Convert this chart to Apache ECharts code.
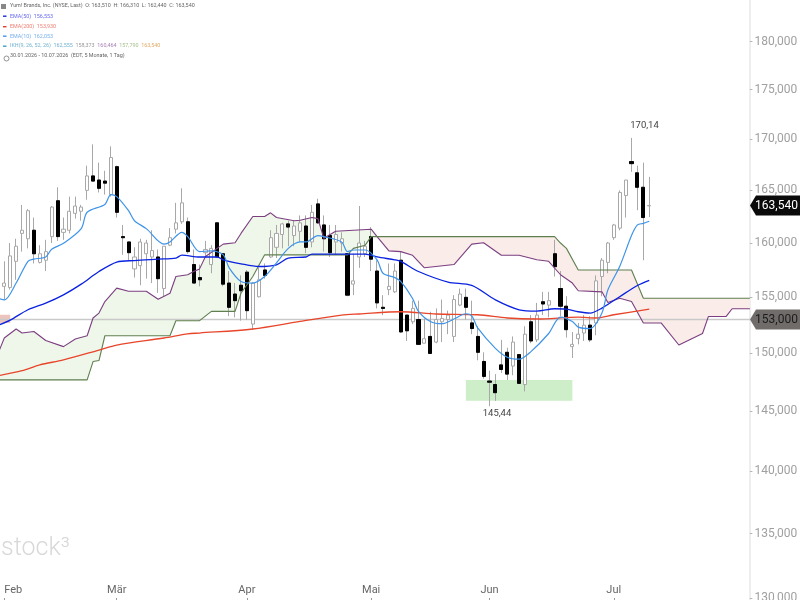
<!DOCTYPE html>
<html><head><meta charset="utf-8">
<style>html,body{margin:0;padding:0;background:#fff}#main{width:800px;height:600px;filter:blur(0.35px)}</style>
<script src="https://cdn.jsdelivr.net/npm/echarts@6/dist/echarts.min.js"></script>
</head><body><div id="main"></div>
<script>
const FONT = 'Roboto,"Liberation Sans",sans-serif';
const holidays = ['2026-02-16','2026-04-03','2026-05-25','2026-06-19','2026-07-03'];
const yTicks = [130,135,140,145,150,155,160,165,170,175,180];
const opens = [154.9,156.0,155.9,158.3,160.9,160.4,161.2,158.2,158.4,160.6,164,161.0,161.2,162.8,163,165,166.4,166,165.9,164.6,167.3,160.6,160.1,157.6,157.9,159,158.7,158.7,155.8,159.8,161.3,162,162,158,156.8,159.1,158,161.9,159,156.3,155.3,156.1,157.3,152.6,155.05,157.5,158.7,159.6,160.8,161.8,160.7,161.1,161.6,160.1,163.7,161.7,160.7,160.1,160,159,156.2,158.7,159,160.6,157.4,154.1,155.7,155.5,158.4,153.4,152.8,153,150.9,151.5,151,152.8,153,151.5,154.3,155,152.7,151.5,149.3,147.6,147.3,149,150.1,148.9,149.9,147.3,152.8,151.2,154.6,154.3,159,155.8,154.2,150.6,151.3,151.8,152.5,152.7,156.9,158.2,160.5,161.4,164.5,167.8,166.7,165.3,163.51];
const highs = [156.0,158.3,160,160.4,163.6,163.2,162.4,159.8,160.3,163.5,165.3,162.4,164.4,164.4,163.6,167.4,169.5,167.7,166.9,169.3,167.4,161.7,160.1,159.6,160.4,160.3,161.2,159.4,159.7,161.4,163.8,165.2,162.4,159.4,158,160.2,159.8,161.9,159.05,157.4,156.3,157,157.5,156.4,157.7,158.1,161.2,161.7,161.9,162.1,162.1,162.6,162.6,163.6,164.2,162.6,161.7,161.7,161,159.05,159,163.5,160.2,161.5,158.4,155.2,158.1,158.1,159.2,153.4,154.7,154.7,153.1,153.7,154,154.8,153.8,155.2,155.8,155.8,154.7,152.4,150.1,148.5,148.2,151.2,150.5,151.5,149.9,152.4,153.4,154.5,155.5,155.5,160.3,157.4,155.1,151.9,152.7,153.4,153.3,157,158.6,160.1,161.8,165,166,170.14,167.4,167.7,166.31];
const lows = [154.8,154.8,155.7,156.6,159.2,159.5,158.1,158.1,157.4,160.0,160.2,160.3,160.9,162.3,162.1,164.1,165.9,164.8,164.6,164.4,162.4,158.9,158.4,156.8,156.1,156.7,156.3,155.4,155.1,159.7,160.9,161.8,159,156.3,156,158.8,157.2,158.6,156,153.3,153.2,152.9,153,152.1,155,156.7,158.6,158.6,159.5,159.7,159.7,160.1,159.05,159.6,161.8,159.2,158.7,158.9,159.2,155.1,155.2,157.7,158.7,157.4,154,153.4,155.2,155.4,151.8,151.1,152.6,150.8,150.9,150,150.9,151,151.7,151,154.2,153,151.7,149.4,147.8,145.44,145.9,148.3,147.7,148.1,147.4,146.7,150.9,151,153.4,153.2,156.9,153.3,151.4,149.6,150.8,151.1,151,151.6,155.1,157.2,160.3,161.2,162.4,166.8,163.1,158.4,162.44];
const closes = [155.6,156.3,158.8,159.7,161.2,163.05,159,159,159.2,163.4,160.6,161.3,163,163.5,163.4,166.4,165.9,165.2,165.7,168.2,162.9,160.5,159.1,158.7,160.1,160,159.3,156.7,159.7,160.5,161.9,163.8,159.2,156.3,156.6,159.4,159.5,158.7,156.2,154.1,154.7,155.6,153.8,156.3,156.6,157,160.5,160.9,161.8,161.5,161.6,161.9,159.6,162.9,161.9,160.4,159.1,160.8,160.4,155.2,156.5,160,159.7,158.5,154.5,154,156,157.4,151.9,152,154,150.8,151.3,150,153,153.1,153.4,154.8,155.3,154.1,152.2,150.1,148,147.5,146.6,148.6,148.2,151,147.4,151.7,151.1,153.4,154.4,154.7,157.8,154.2,152.1,150.8,151.7,152.5,151.2,156.5,158.4,160,161.7,164.8,166,167.6,165.3,162.4,163.54];
const ema10 = [[0,154.9],[1,154.77],[3,156.3],[5,158.3],[6,158.5],[8,158.7],[9,159.42],[11,159.97],[14,161.35],[15,162.9],[18,163.65],[19,164.6],[20,164.4],[22,163.05],[23,162.1],[25,161.35],[28,159.9],[29,160.1],[31,161],[32,160.6],[34,159.2],[36,159.27],[38,158.9],[39,157.7],[41,156.45],[43,156.3],[45,156.9],[47,158.15],[49,159.5],[51,160.1],[52,160.1],[54,160.7],[55,160.6],[58,160.1],[59,159.2],[60,159.35],[62,159.35],[64,158.44],[65,157.2],[67,156.8],[68,156.45],[70,154.9],[71,153.73],[73,152.83],[75,152.63],[77,153.05],[79,153.52],[80,153.34],[81,152.25],[84,150.45],[86,149.67],[88,149.5],[90,150.16],[93,151.76],[95,153.22],[97,152.83],[98,152.33],[100,152.2],[102,153.58],[103,155.66],[105,157.82],[107,160.7],[108,161.7],[109,161.85],[110,162.05]];
const ema50 = [[0,152.5],[2,152.95],[5,153.88],[8,154.47],[11,155.22],[14,156.2],[17,157.36],[20,158.23],[23,158.37],[27,158.5],[30,158.6],[31,158.87],[34,158.7],[37,158.7],[38,158.44],[41,158.07],[44,157.82],[47,157.98],[49,158.6],[52,158.7],[53,158.97],[59,158.97],[62,158.97],[64,158.7],[67,158.44],[68,158.3],[71,157.36],[76,156.39],[80,156.08],[84,154.77],[88,153.88],[91,153.76],[94,153.97],[96,153.94],[98,153.7],[100,153.58],[102,154.03],[105,155.06],[108,156.08],[110,156.55]];
const ema200 = [[0,148.06],[4,148.5],[7,149],[11,149.44],[17,150.3],[20,150.74],[28,151.36],[32,151.73],[34,151.8],[43,152.16],[51,152.83],[58,153.4],[61,153.5],[68,153.7],[74,153.5],[81,153.43],[86,153.14],[91,153.05],[98,153.22],[101,153.14],[104,153.43],[110,153.93]];
const spanPurple = [[0,150.07],[1,151.36],[3,152.16],[4,151.8],[6,151.94],[8,151.14],[11,150.6],[13,151.27],[15,151.56],[16,153.14],[17,153.58],[18,154.62],[20,155.84],[22,155.56],[25,155.56],[27,154.83],[29,155.37],[30,156.9],[32,157.06],[33,157.36],[34,157.6],[35,158.74],[38,159.9],[40,160.03],[41,160.9],[43,162.5],[45,162.5],[46,162.85],[47,162.4],[50,162.1],[51,162.15],[53,162.4],[54,162.3],[55,160.45],[57,161.1],[63,161.3],[64,160.6],[66,159.27],[68,159.2],[70,158.86],[72,157.7],[77,158],[80,159.9],[82,160.03],[85,158.86],[88,158.86],[91,158.44],[93,158.3],[95,157.06],[97,156.3],[98,155.6],[102,155.5],[103,154.53],[105,154.92],[107,154.62],[109,152.7],[112,152.7],[115,150.74],[119,151.76],[120,153.28],[123,153.28],[124,153.97],[127,153.97]];
const spanGreen = [[0,147.7],[15,147.7],[16,149.29],[17,149.38],[18,151.56],[29,151.56],[30,152.9],[34,152.9],[36,153.73],[40,153.73],[41,155.37],[43,156.9],[45,158.9],[59,158.9],[60,159.5],[62,159.8],[63,160.6],[64,160.6],[94,160.6],[95,160],[96,159.5],[98,157.5],[107,157.5],[109,154.92],[127,154.92]];
const cloudSplit = 64;
const levelPrice = 153;
const lastPrice = 163.54;
const zones = [[79,97,147.7,145.9,'#cdeec8'],[0,2,153.43,152.7,'#ecc4bd']];
const extremes = [[107,170.14,'170,14',[13,-12]],[83,145.44,'145,44',[7.5,7]]];
const watermark = 'stock³';
const headerName = 'Yum! Brands, Inc. (NYSE, Last)';
const headerOHLC = ['O: 163,510','H: 166,310','L: 162,440','C: 163,540'];
const rangeText = '30.01.2026 - 10.07.2026  (EDT, 5 Monate, 1 Tag)';
const ikh = ['IKH(9, 26, 52, 26)','162,555','158,373','160,464','157,790','163,540'];
const monthNames = {'02':'Feb','03':'Mär','04':'Apr','05':'Mai','06':'Jun','07':'Jul'};

const categories = [];
for (let d = new Date(Date.UTC(2026,0,30)); categories.length < 128; d = new Date(d.getTime()+864e5)) {
  const s = d.toISOString().slice(0,10), w = d.getUTCDay();
  if (w !== 0 && w !== 6 && holidays.indexOf(s) < 0) categories.push(s);
}
const monthStart = {};
categories.forEach((c,i)=>{ const m=c.slice(5,7); if (monthNames[m] && !(m in monthStart) && i<111) monthStart[m]=i; });
const isMonthStart = i => Object.values(monthStart).indexOf(i) >= 0;
const fmt = v => v.toFixed(3).replace('.',',');

const candleData = opens.map((o,i)=>[o,closes[i],lows[i],highs[i]]);
const downBodies = opens.map((o,i)=> closes[i]<o ? [o,closes[i],closes[i],o] : '-');

const chart = echarts.init(document.getElementById('main'),null,{renderer:'canvas'});
const lineS = (name,data,color,width,smooth,z)=>({name,type:'line',data,smooth,symbol:'none',z,silent:true,
  lineStyle:{color,width},itemStyle:{color},animation:false});

function tag(params,api){
  const y = api.coord([0,api.value(1)])[1], x0=750, x1=800, h=10, black=api.value(0)===1;
  return {type:'group',children:[
    {type:'polygon',shape:{points:[[x0,y],[x0+6,y-h],[x1,y-h],[x1,y+h],[x0+6,y+h]]},style:{fill:black?'#0a0a0a':'#6f6c69'}},
    {type:'text',style:{text:fmt(api.value(1)),x:776.5,y:y,align:'center',verticalAlign:'middle',font:'12px '+FONT,fill:black?'#fff':'#1c1c1c'}}
  ]};
}

const LEG = '5.4px '+FONT;
chart.setOption({
  animation:false,
  backgroundColor:'#fff',
  textStyle:{fontFamily:FONT},
  grid:{left:-4.58,top:0,width:757.4,height:600,containLabel:false,outerBoundsMode:'none'},
  xAxis:{type:'category',data:categories,boundaryGap:true,
    axisLine:{show:false},
    axisTick:{show:true,inside:true,length:2,alignWithLabel:true,interval:i=>isMonthStart(i),lineStyle:{color:'#999'}},
    axisLabel:{inside:true,margin:4,fontSize:11,color:'#666',fontFamily:FONT,hideOverlap:false,showMinLabel:true,alignMinLabel:'left',
      interval:i=>isMonthStart(i),formatter:v=>monthNames[v.slice(5,7)]},
    splitLine:{show:false}},
  yAxis:{type:'log',logBase:Math.E,min:129.87,max:184.42,position:'right',offset:-2.9,scale:true,
    axisLine:{show:true,onZero:false,lineStyle:{color:'#eeeeee',width:2}},
    axisTick:{show:true,length:2.5,customValues:yTicks,lineStyle:{color:'#b5b5b5'}},
    axisLabel:{margin:4.5,fontSize:12,color:'#a0a0a0',fontFamily:FONT,customValues:yTicks,align:'left',
      formatter:v=>fmt(Number(v))},
    splitLine:{show:false},minorTick:{show:false}},
  graphic:[
    {type:'rect',left:1,top:4,shape:{width:5,height:5},style:{fill:'#888'}},
    {type:'text',left:10,top:3.5,style:{text:headerName+'  '+headerOHLC.join('  '),font:LEG,fill:'#666'}},
    {type:'rect',left:3,top:15.5,shape:{width:3.5,height:1.4},style:{fill:'#1a2be0'}},
    {type:'text',left:10,top:14,style:{text:'EMA(50)  156,553',font:LEG,fill:'#6a6af0'}},
    {type:'rect',left:3,top:26,shape:{width:3.5,height:1.4},style:{fill:'#e8392a'}},
    {type:'text',left:10,top:24,style:{text:'EMA(200)  153,930',font:LEG,fill:'#ee7e72'}},
    {type:'rect',left:3,top:35.5,shape:{width:3.5,height:1.4},style:{fill:'#3f93e8'}},
    {type:'text',left:10,top:34,style:{text:'EMA(10)  162,053',font:LEG,fill:'#78b0ec'}},
    {type:'rect',left:3,top:45.5,shape:{width:3.5,height:1.4},style:{fill:'#3fa0c0'}},
    {type:'text',left:10,top:43.5,style:{font:LEG,
      text:'{a|'+ikh[0]+'}  {a|'+ikh[1]+'}  {b|'+ikh[2]+'}  {c|'+ikh[3]+'}  {d|'+ikh[4]+'}  {e|'+ikh[5]+'}',
      rich:{a:{fill:'#72b2cc',font:LEG},b:{fill:'#9a9a9a',font:LEG},c:{fill:'#a880b4',font:LEG},d:{fill:'#a8c090',font:LEG},e:{fill:'#e2aa64',font:LEG}}}},
    {type:'circle',left:1.5,top:53.5,shape:{r:2.5},style:{fill:'none',stroke:'#666',lineWidth:0.7}},
    {type:'text',left:10,top:53.5,style:{text:rangeText,font:LEG,fill:'#666'}},
    {type:'text',left:1,top:536,z:0,style:{text:watermark,font:'300 25px Roboto,sans-serif',fill:'#d8d8d8'}}
  ],
  series:[
    {name:'Zones',type:'custom',z:1,silent:true,clip:true,data:zones,encode:{x:[0,1],y:[2,3]},
      renderItem:(p,api)=>{
        const a=api.coord([api.value(0),api.value(2)]),b=api.coord([api.value(1),api.value(3)]);
        return {type:'rect',shape:{x:a[0],y:a[1],width:b[0]-a[0],height:b[1]-a[1]},style:{fill:zones[p.dataIndex][4]}};
      }},
    {name:'Cloud',type:'custom',z:1,silent:true,clip:true,data:[[0],[1]],encode:{x:0},
      renderItem:(p,api)=>{
        const up=p.dataIndex===0;
        const inside=v=>up? v[0]<=cloudSplit : v[0]>=cloudSplit;
        const pts=spanPurple.filter(inside).concat(spanGreen.filter(inside).reverse()).map(v=>api.coord(v));
        return {type:'polygon',shape:{points:pts},style:{fill:up?'#eff6ea':'#f9ece9'}};
      }},
    lineS('Level',[[0,levelPrice],[127,levelPrice]],'#c9c9c9',1.5,false,2),
    {name:'Yum',type:'candlestick',data:candleData,barWidth:3.6,z:3,silent:true,
      itemStyle:{color:'#fff',color0:'#000',borderColor:'#a8a8a8',borderColor0:'#a8a8a8',borderColorDoji:'#a8a8a8',borderWidth:1},
      markPoint:{symbolSize:0,silent:true,animation:false,
        data:extremes.map(e=>({coord:[e[0],e[1]],value:e[2],
          label:{show:true,position:'inside',offset:e[3],formatter:e[2],fontSize:9.5,color:'#444',fontFamily:FONT}}))}},
    {name:'Bodies',type:'candlestick',data:downBodies,barWidth:3.6,z:4,silent:true,
      itemStyle:{color:'#000',color0:'#000',borderColor:'#000',borderColor0:'#000',borderColorDoji:'#000',borderWidth:1}},
    lineS('Span A',spanPurple,'#7b3f80',1.1,false,5),
    lineS('Span B',spanGreen,'#5f7f4f',1.1,false,5),
    lineS('EMA200',ema200,'#e8452a',1.3,0.3,6),
    lineS('EMA50',ema50,'#0a22e0',1.3,0.3,6),
    lineS('EMA10',ema10,'#3f93e8',1.2,0.3,6),
    {name:'Tags',type:'custom',z:10,silent:true,clip:false,data:[[0,levelPrice],[1,lastPrice]],encode:{y:1},renderItem:tag}
  ]
});
</script></body></html>
